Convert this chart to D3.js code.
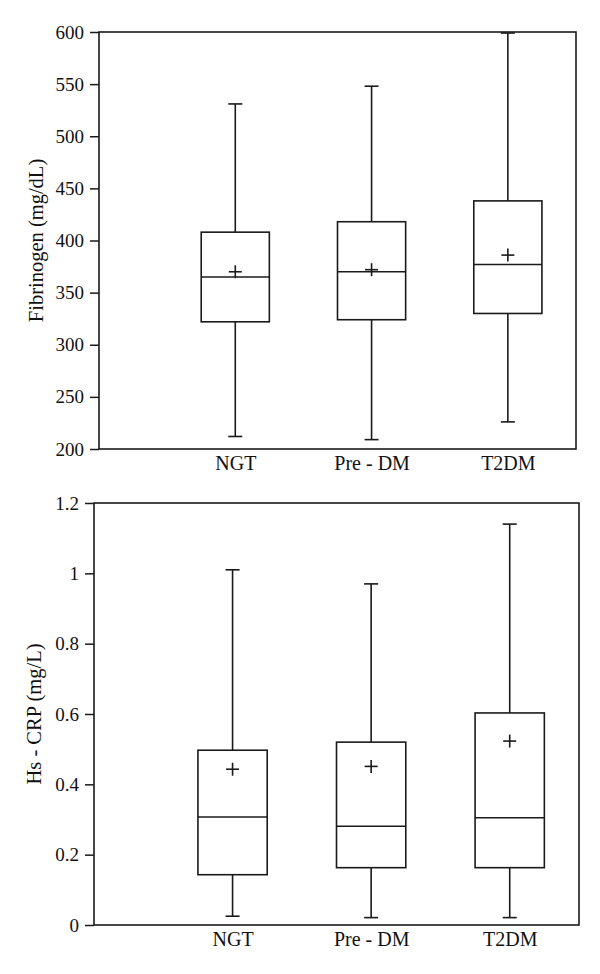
<!DOCTYPE html>
<html>
<head>
<meta charset="utf-8">
<script src="https://cdn.jsdelivr.net/npm/d3@7"></script>
<style>
  html, body { margin: 0; padding: 0; background: #fff; }
  svg { display: block; }
  text { font-family: "Liberation Serif", "DejaVu Serif", serif; fill: #111; }
</style>
</head>
<body>
<svg id="chart" width="600" height="974"></svg>
<script>
// ---- Data ----
const categories = ["NGT", "Pre-DM", "T2DM"];
const categoryLabels = ["NGT", "Pre - DM", "T2DM"];

// Fibrinogen (mg/dL)
const fibWhiskerLow  = [212, 209, 226];
const fibQ1          = [322, 324, 330];
const fibMedian      = [365, 370, 377];
const fibQ3          = [408, 418, 438];
const fibWhiskerHigh = [531, 548, 599];
const fibMean        = [370, 372, 386];
const fibTicks       = [200, 250, 300, 350, 400, 450, 500, 550, 600];

// Hs-CRP (mg/L)
const crpWhiskerLow  = [0.025, 0.021, 0.021];
const crpQ1          = [0.143, 0.163, 0.163];
const crpMedian      = [0.307, 0.281, 0.305];
const crpQ3          = [0.497, 0.520, 0.603];
const crpWhiskerHigh = [1.01, 0.97, 1.14];
const crpMean        = [0.443, 0.451, 0.523];
const crpTicks       = [0, 0.2, 0.4, 0.6, 0.8, 1, 1.2];

const svg = d3.select("#chart");
const INK = "#1a1a1a";

function drawPanel(cfg) {
  const { left, right, top, bottom, domain, ticks, fmt, title, titleX, stats } = cfg;
  const g = svg.append("g");
  const x = d3.scaleLinear().domain([0, 3.5]).range([left, right]);
  const y = d3.scaleLinear().domain(domain).range([bottom, top]);
  const step = x(1) - x(0);
  const boxW = step * 0.5;
  const capW = 14;

  // frame
  g.append("rect")
    .attr("x", left).attr("y", top)
    .attr("width", right - left).attr("height", bottom - top)
    .attr("fill", "none").attr("stroke", INK).attr("stroke-width", 1.6);

  // y axis
  const yAxis = d3.axisLeft(y).tickValues(ticks).tickFormat(fmt).tickSize(9).tickPadding(6);
  const ya = g.append("g").attr("transform", `translate(${left},0)`).call(yAxis);
  ya.attr("font-size", 19).attr("font-family", "Liberation Serif");
  ya.select(".domain").remove();
  ya.selectAll(".tick line").attr("stroke", INK).attr("stroke-width", 1.5);
  ya.selectAll(".tick text").attr("fill", "#111");

  // x category labels
  const xa = d3.axisBottom(x).tickValues([1, 2, 3]).tickFormat(d => categoryLabels[d - 1]).tickSize(0).tickPadding(7);
  const xg = g.append("g").attr("transform", `translate(0,${bottom})`).call(xa);
  xg.attr("font-size", 20).attr("font-family", "Liberation Serif");
  xg.select(".domain").remove();
  xg.selectAll(".tick text").attr("fill", "#111");

  // y title
  g.append("text")
    .attr("transform", `translate(${titleX},${(top + bottom) / 2}) rotate(-90)`)
    .attr("text-anchor", "middle")
    .attr("dominant-baseline", "middle")
    .attr("font-size", 20.5)
    .text(title);

  const data = categories.map((c, i) => ({
    i, lo: stats.lo[i], q1: stats.q1[i], med: stats.med[i], q3: stats.q3[i], hi: stats.hi[i], mean: stats.mean[i]
  }));

  const b = g.selectAll("g.box").data(data).join("g").attr("class", "box");
  const cx = d => x(d.i + 1);
  const line = (sel, x1, y1, x2, y2) => sel.append("line")
    .attr("x1", x1).attr("y1", y1).attr("x2", x2).attr("y2", y2)
    .attr("stroke", INK).attr("stroke-width", 1.6);

  // whiskers
  line(b, cx, d => y(d.q3), cx, d => y(d.hi));
  line(b, cx, d => y(d.q1), cx, d => y(d.lo));
  line(b, d => cx(d) - capW / 2, d => y(d.hi), d => cx(d) + capW / 2, d => y(d.hi));
  line(b, d => cx(d) - capW / 2, d => y(d.lo), d => cx(d) + capW / 2, d => y(d.lo));
  // box
  b.append("rect")
    .attr("x", d => cx(d) - boxW / 2).attr("y", d => y(d.q3))
    .attr("width", boxW).attr("height", d => y(d.q1) - y(d.q3))
    .attr("fill", "none").attr("stroke", INK).attr("stroke-width", 1.6);
  // median
  line(b, d => cx(d) - boxW / 2, d => y(d.med), d => cx(d) + boxW / 2, d => y(d.med));
  // mean plus
  const pm = 6.5;
  line(b, d => cx(d) - pm, d => y(d.mean), d => cx(d) + pm, d => y(d.mean));
  line(b, cx, d => y(d.mean) - pm, cx, d => y(d.mean) + pm);
}

drawPanel({
  left: 99, right: 576, top: 32, bottom: 449,
  domain: [200, 600], ticks: fibTicks, fmt: d3.format("d"),
  title: "Fibrinogen (mg/dL)", titleX: 38,
  stats: { lo: fibWhiskerLow, q1: fibQ1, med: fibMedian, q3: fibQ3, hi: fibWhiskerHigh, mean: fibMean }
});

drawPanel({
  left: 94, right: 579, top: 503, bottom: 925,
  domain: [0, 1.2], ticks: crpTicks, fmt: d => String(+d.toFixed(1)),
  title: "Hs - CRP (mg/L)", titleX: 36,
  stats: { lo: crpWhiskerLow, q1: crpQ1, med: crpMedian, q3: crpQ3, hi: crpWhiskerHigh, mean: crpMean }
});
</script>
</body>
</html>
